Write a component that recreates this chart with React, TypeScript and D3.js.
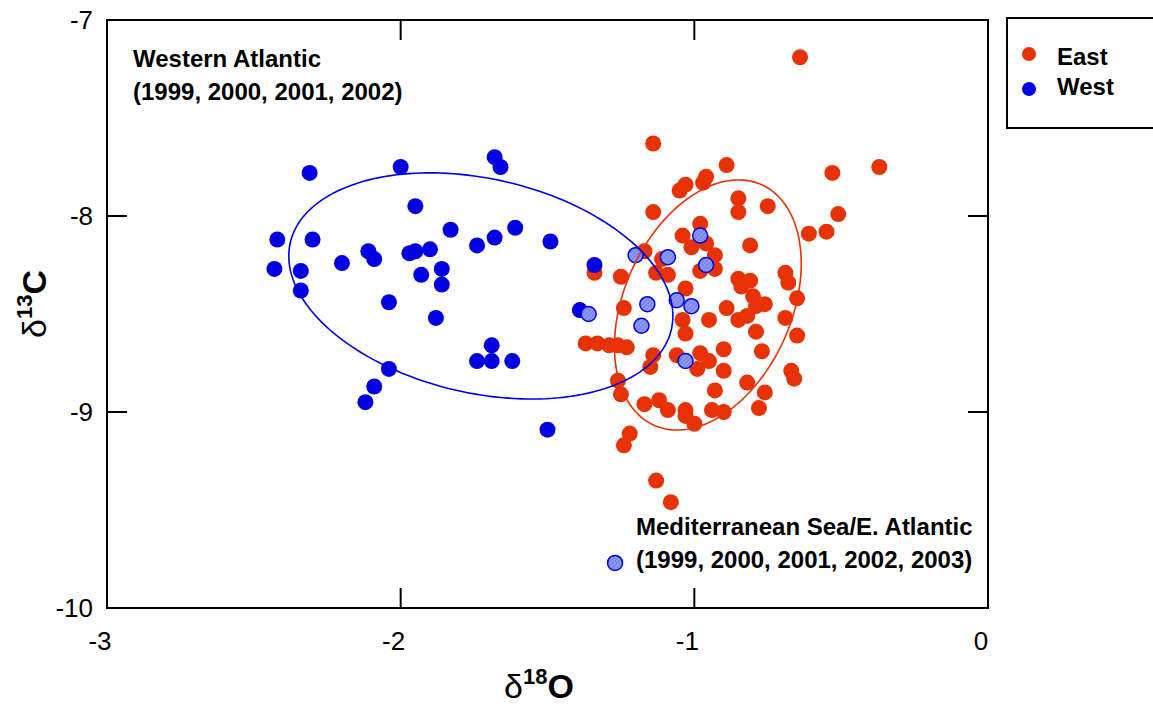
import React from "react";
import * as d3 from "d3";

// δ18O / δ13C values
const eastD18O = [
  -0.64, -0.89, -0.53, -0.37, -0.96, -0.97, -1.03, -1.05, -0.85, -0.85, -0.75, -0.51, -1.14, -1.14,
  -0.98, -0.61, -0.55, -1.04, -0.96, -1.01, -0.81, -1.17, -0.93, -0.93, -0.98, -1.13, -1.09, -1.25,
  -0.69, -0.68, -0.85, -0.81, -0.84, -0.8, -0.76, -0.79, -0.65, -1.03, -1.24, -0.89, -1.04, -0.95,
  -0.85, -0.82, -0.69, -1.03, -0.79, -0.65, -1.37, -1.33, -1.29, -1.26, -1.23, -1.14, -1.15, -1.06,
  -0.98, -0.95, -0.99, -0.9, -0.9, -0.77, -0.82, -0.76, -0.78, -0.67, -0.66, -1.26, -1.25, -0.93,
  -1.17, -1.12, -1.09, -1.03, -1.03, -1.0, -0.94, -0.9, -1.22, -1.24, -1.13, -1.08, -1.34, -1.11,
];
const eastD13C = [
  -7.19, -7.74, -7.78, -7.75, -7.8, -7.83, -7.84, -7.87, -7.91, -7.98, -7.95, -7.99, -7.63, -7.98,
  -8.04, -8.09, -8.08, -8.1, -8.14, -8.16, -8.15, -8.18, -8.2, -8.27, -8.28, -8.29, -8.3, -8.31,
  -8.29, -8.34, -8.32, -8.33, -8.36, -8.41, -8.45, -8.46, -8.42, -8.37, -8.47, -8.47, -8.53, -8.53,
  -8.53, -8.51, -8.52, -8.6, -8.59, -8.61, -8.65, -8.65, -8.66, -8.66, -8.67, -8.71, -8.77, -8.71,
  -8.7, -8.74, -8.78, -8.68, -8.79, -8.69, -8.85, -8.9, -8.98, -8.79, -8.83, -8.84, -8.91, -8.89,
  -8.96, -8.94, -8.99, -8.99, -9.02, -9.06, -8.99, -9.0, -9.11, -9.17, -9.35, -9.46, -8.29, -8.22,
];

const westD18O = [
  -2.31, -2.0, -1.68, -1.66, -1.95, -2.42, -2.3, -1.83, -1.61, -1.68, -1.74, -1.49, -2.11, -2.09,
  -1.97, -1.95, -1.9, -2.43, -2.34, -2.2, -1.86, -1.93, -1.86, -2.34, -2.04, -1.88, -1.69, -1.74,
  -1.69, -1.62, -2.04, -2.09, -2.12, -1.5, -1.34, -1.39,
];
const westD13C = [
  -7.78, -7.75, -7.7, -7.75, -7.95, -8.12, -8.12, -8.07, -8.06, -8.11, -8.15, -8.13, -8.18, -8.22,
  -8.19, -8.18, -8.17, -8.27, -8.28, -8.24, -8.27, -8.3, -8.35, -8.38, -8.44, -8.52, -8.66, -8.74,
  -8.74, -8.74, -8.78, -8.87, -8.95, -9.09, -8.25, -8.48,
];

// western-origin fish caught in the Mediterranean / E. Atlantic
const medD18O = [-0.98, -1.2, -1.09, -0.96, -1.36, -1.16, -1.06, -1.01, -1.18, -1.03, -1.27];
const medD13C = [-8.1, -8.2, -8.21, -8.25, -8.5, -8.45, -8.43, -8.46, -8.56, -8.74, -9.77];

// confidence ellipses: [mean δ18O, mean δ13C, sd δ18O, sd δ13C, r]
const westEllipse = [-1.727, -8.357, 0.654, 0.577, -0.265];
const eastEllipse = [-0.954, -8.454, 0.318, 0.638, 0.33];

const xTicks = [-3, -2, -1, 0];
const yTicks = [-10, -9, -8, -7];

const RED = "#e63205";
const BLUE = "#0000e0";
const FONT = "'Liberation Sans', Arial, sans-serif";

const W = 1153;
const H = 706;
const left = 107;
const right = 988;
const top = 20;
const bottom = 608;

export default function App() {
  const x = d3.scaleLinear().domain([-3, 0]).range([left, right]);
  const y = d3.scaleLinear().domain([-10, -7]).range([bottom, top]);

  const ellipsePath = (e: number[]) => {
    const [cx, cy, sx, sy, r] = e;
    const pts = d3.range(0, 361, 2).map((deg) => {
      const t = (deg * Math.PI) / 180;
      return [
        cx + sx * Math.cos(t),
        cy + sy * (r * Math.cos(t) + Math.sqrt(1 - r * r) * Math.sin(t)),
      ] as [number, number];
    });
    return d3
      .line<[number, number]>()
      .x((d) => x(d[0]))
      .y((d) => y(d[1]))
      .curve(d3.curveLinearClosed)(pts) as string;
  };

  const tick = 20;

  return (
    <svg
      width={W}
      height={H}
      style={{ position: "absolute", left: 0, top: 0, background: "#fff" }}
      fontFamily={FONT}
    >
      <defs>
        <pattern id="hatch" width="3" height="3" patternUnits="userSpaceOnUse" patternTransform="rotate(45)">
          <rect width="3" height="3" fill="#8e99f2" />
          <line x1="0" y1="0" x2="0" y2="3" stroke="#5d6ce6" strokeWidth="1.2" />
        </pattern>
      </defs>

      {/* frame */}
      <rect x={left} y={top} width={right - left} height={bottom - top} fill="none" stroke="#000" strokeWidth={2} />
      {xTicks.slice(1, -1).map((t) => (
        <g key={"xt" + t} stroke="#000" strokeWidth={2}>
          <line x1={x(t)} x2={x(t)} y1={bottom} y2={bottom - tick} />
          <line x1={x(t)} x2={x(t)} y1={top} y2={top + tick} />
        </g>
      ))}
      {yTicks.slice(1, -1).map((t) => (
        <g key={"yt" + t} stroke="#000" strokeWidth={2}>
          <line x1={left} x2={left + tick} y1={y(t)} y2={y(t)} />
          <line x1={right} x2={right - tick} y1={y(t)} y2={y(t)} />
        </g>
      ))}
      {xTicks.map((t) => (
        <text key={"xl" + t} x={x(t) - 7} y={650} fontSize={26} textAnchor="middle">
          {t === 0 ? "0" : "-" + Math.abs(t)}
        </text>
      ))}
      {yTicks.map((t) => (
        <text key={"yl" + t} x={93} y={y(t) + 9} fontSize={26} textAnchor="end">
          {"-" + Math.abs(t)}
        </text>
      ))}

      {/* points */}
      {eastD18O.map((d, i) => (
        <circle key={"e" + i} cx={x(d)} cy={y(eastD13C[i])} r={8} fill={RED} />
      ))}
      {westD18O.map((d, i) => (
        <circle key={"w" + i} cx={x(d)} cy={y(westD13C[i])} r={8} fill={BLUE} />
      ))}
      {medD18O.map((d, i) => (
        <circle key={"m" + i} cx={x(d)} cy={y(medD13C[i])} r={7.5} fill="url(#hatch)" stroke={BLUE} strokeWidth={1.5} />
      ))}

      <path d={ellipsePath(eastEllipse)} fill="none" stroke={RED} strokeWidth={1.6} />
      <path d={ellipsePath(westEllipse)} fill="none" stroke={BLUE} strokeWidth={1.6} />

      {/* annotations */}
      <g fontSize={24} fontWeight="bold">
        <text x={133} y={67}>Western Atlantic</text>
        <text x={133} y={100}>(1999, 2000, 2001, 2002)</text>
        <text x={636} y={535}>Mediterranean Sea/E. Atlantic</text>
        <text x={636} y={568}>(1999, 2000, 2001, 2002, 2003)</text>
      </g>

      {/* legend */}
      <rect x={1007} y={18} width={170} height={110} fill="none" stroke="#000" strokeWidth={2} />
      <circle cx={1029} cy={54} r={7} fill={RED} />
      <circle cx={1029} cy={89} r={7} fill={BLUE} />
      <g fontSize={24} fontWeight="bold">
        <text x={1057} y={65}>East</text>
        <text x={1057} y={95}>West</text>
      </g>

      {/* axis titles */}
      <text x={539} y={698} textAnchor="middle" fontSize={34}>
        <tspan>δ</tspan>
        <tspan fontSize={22} fontWeight="bold" dy={-14}>18</tspan>
        <tspan fontWeight="bold" dy={14}>O</tspan>
      </text>
      <text transform="translate(46,304) rotate(-90)" textAnchor="middle" fontSize={34}>
        <tspan>δ</tspan>
        <tspan fontSize={22} fontWeight="bold" dy={-14}>13</tspan>
        <tspan fontWeight="bold" dy={14}>C</tspan>
      </text>
    </svg>
  );
}
